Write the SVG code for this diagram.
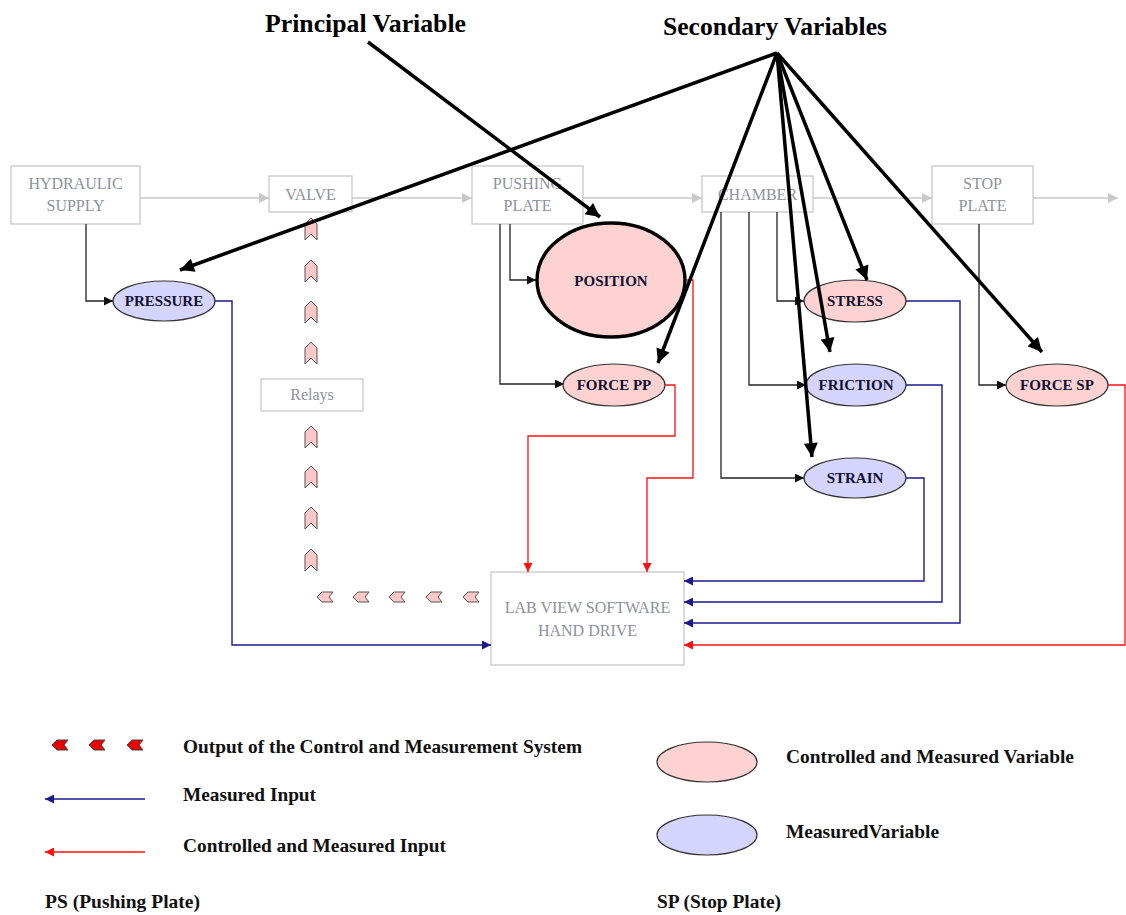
<svg xmlns="http://www.w3.org/2000/svg" width="1126" height="915" viewBox="0 0 1126 915">
  <style>
    .box { fill: #ffffff; stroke: #c8c8c8; stroke-width: 1.3; }
    .boxtxt { font-family: "Liberation Serif", "Times New Roman", serif; font-size: 16px; fill: #8c929c; text-anchor: middle; }
    .flow { fill: none; stroke: #c8c8c8; stroke-width: 1.5; }
    .thin { fill: none; stroke: #222222; stroke-width: 1.3; }
    .blue { fill: none; stroke: #1a1a8c; stroke-width: 1.4; }
    .red { fill: none; stroke: #ff1010; stroke-width: 1.3; }
    .thick { fill: none; stroke: #000000; stroke-width: 3.5; }
    .cmv { fill: #ffd2d2; stroke: #333333; stroke-width: 1.2; }
    .mv { fill: #d4d4fc; stroke: #333333; stroke-width: 1.2; }
    .principal { fill: #ffd2d2; stroke: #000000; stroke-width: 3.4; }
    .ntxt { font-family: "Liberation Serif", "Times New Roman", serif; font-weight: bold; font-size: 15px; fill: #111133; text-anchor: middle; }
    .title { font-family: "Liberation Serif", "Times New Roman", serif; font-weight: bold; font-size: 26px; fill: #000000; }
    .leg { font-family: "Liberation Serif", "Times New Roman", serif; font-weight: bold; font-size: 19px; fill: #111111; }
    .chev { fill: #ffc8c8; stroke: #555555; stroke-width: 1; }
    .chevred { fill: #e80000; stroke: #444444; stroke-width: 1; }
  </style>
  <defs>
    <marker id="aGray" viewBox="0 0 10 10" refX="10" refY="5" markerWidth="10" markerHeight="10" markerUnits="userSpaceOnUse" orient="auto">
      <path d="M0,0 L10,5 L0,10 z" fill="#c8c8c8"/>
    </marker>
    <marker id="aBlack" viewBox="0 0 10 10" refX="10" refY="5" markerWidth="9" markerHeight="9" markerUnits="userSpaceOnUse" orient="auto">
      <path d="M0,0 L10,5 L0,10 z" fill="#111111"/>
    </marker>
    <marker id="aBlue" viewBox="0 0 10 10" refX="10" refY="5" markerWidth="9" markerHeight="9" markerUnits="userSpaceOnUse" orient="auto">
      <path d="M0,0 L10,5 L0,10 z" fill="#1a1a8c"/>
    </marker>
    <marker id="aRed" viewBox="0 0 10 10" refX="10" refY="5" markerWidth="9" markerHeight="9" markerUnits="userSpaceOnUse" orient="auto">
      <path d="M0,0 L10,5 L0,10 z" fill="#ff1010"/>
    </marker>
    <marker id="aThick" viewBox="0 0 10 10" refX="10" refY="5" markerWidth="15" markerHeight="14" markerUnits="userSpaceOnUse" orient="auto">
      <path d="M0,0 L10,5 L0,10 z" fill="#000000"/>
    </marker>
    <polygon id="chevUp" points="0,-11 6,-5 6,11 0,5 -6,11 -6,-5"/>
    <polygon id="chevLeft" points="-8,0 -3,-5 8,-5 4,0 8,5 -3,5"/>
  </defs>

  <!-- Process chain boxes -->
  <g id="hydraulic-supply">
    <rect class="box" x="11" y="166" width="129" height="58"/>
    <text class="boxtxt" x="75.5" y="189">HYDRAULIC</text>
    <text class="boxtxt" x="75.5" y="211">SUPPLY</text>
  </g>
  <g id="valve">
    <rect class="box" x="269" y="176" width="83" height="36"/>
    <text class="boxtxt" x="310.5" y="200">VALVE</text>
  </g>
  <g id="pushing-plate">
    <rect class="box" x="472" y="166" width="111" height="58"/>
    <text class="boxtxt" x="527.5" y="189">PUSHING</text>
    <text class="boxtxt" x="527.5" y="211">PLATE</text>
  </g>
  <g id="chamber">
    <rect class="box" x="702" y="176" width="111" height="36"/>
    <text class="boxtxt" x="757.5" y="200">CHAMBER</text>
  </g>
  <g id="stop-plate">
    <rect class="box" x="932" y="166" width="101" height="58"/>
    <text class="boxtxt" x="982.5" y="189">STOP</text>
    <text class="boxtxt" x="982.5" y="211">PLATE</text>
  </g>
  <g id="relays">
    <rect class="box" x="261" y="379" width="102" height="32"/>
    <text class="boxtxt" x="312" y="400">Relays</text>
  </g>
  <g id="labview">
    <rect class="box" x="491" y="572" width="193" height="93"/>
    <text class="boxtxt" x="587.5" y="613">LAB VIEW SOFTWARE</text>
    <text class="boxtxt" x="587.5" y="636">HAND DRIVE</text>
  </g>

  <!-- Connectors -->
  <g id="connectors">
    <!-- process flow -->
    <line class="flow" x1="140" y1="198" x2="269" y2="198" marker-end="url(#aGray)"/>
    <line class="flow" x1="352" y1="198" x2="472" y2="198" marker-end="url(#aGray)"/>
    <line class="flow" x1="583" y1="198" x2="702" y2="198" marker-end="url(#aGray)"/>
    <line class="flow" x1="813" y1="198" x2="932" y2="198" marker-end="url(#aGray)"/>
    <line class="flow" x1="1033" y1="198" x2="1118" y2="198" marker-end="url(#aGray)"/>

    <!-- sources to variables -->
    <polyline class="thin" points="86,224 86,301 113,301" marker-end="url(#aBlack)"/>
    <polyline class="thin" points="510,224 510,280 536,280" marker-end="url(#aBlack)"/>
    <polyline class="thin" points="500,224 500,384 564,384" marker-end="url(#aBlack)"/>
    <polyline class="thin" points="777,212 777,301 804,301" marker-end="url(#aBlack)"/>
    <polyline class="thin" points="749,212 749,385 806,385" marker-end="url(#aBlack)"/>
    <polyline class="thin" points="721,212 721,478 804,478" marker-end="url(#aBlack)"/>
    <polyline class="thin" points="979,224 979,385 1006,385" marker-end="url(#aBlack)"/>

    <!-- measured inputs -->
    <polyline class="blue" points="215,301 232,301 232,645 491,645" marker-end="url(#aBlue)"/>
    <polyline class="blue" points="906,478 924,478 924,581 684,581" marker-end="url(#aBlue)"/>
    <polyline class="blue" points="906,385 942,385 942,602 684,602" marker-end="url(#aBlue)"/>
    <polyline class="blue" points="906,301 960,301 960,623 684,623" marker-end="url(#aBlue)"/>

    <!-- controlled and measured inputs -->
    <polyline class="red" points="687,280 693,280 693,478 647,478 647,572" marker-end="url(#aRed)"/>
    <polyline class="red" points="665,385 675,385 675,436 528,436 528,572" marker-end="url(#aRed)"/>
    <polyline class="red" points="1108,385 1125,385 1125,645 684,645" marker-end="url(#aRed)"/>

    <!-- control outputs through the relays -->
    <g class="chev">
      <use href="#chevUp" x="311" y="229"/>
      <use href="#chevUp" x="311" y="271"/>
      <use href="#chevUp" x="311" y="312"/>
      <use href="#chevUp" x="311" y="353"/>
      <use href="#chevUp" x="311" y="437"/>
      <use href="#chevUp" x="311" y="477"/>
      <use href="#chevUp" x="311" y="518"/>
      <use href="#chevUp" x="311" y="560"/>
      <use href="#chevLeft" x="325" y="597"/>
      <use href="#chevLeft" x="361" y="597"/>
      <use href="#chevLeft" x="397" y="597"/>
      <use href="#chevLeft" x="434" y="597"/>
      <use href="#chevLeft" x="471" y="597"/>
    </g>
  </g>

  <!-- Variables -->
  <g id="pressure">
    <ellipse class="mv" cx="164" cy="301" rx="51" ry="20"/>
    <text class="ntxt" x="164" y="306">PRESSURE</text>
  </g>
  <g id="position">
    <ellipse class="principal" cx="611" cy="280" rx="74" ry="57"/>
    <text class="ntxt" x="611" y="286">POSITION</text>
  </g>
  <g id="force-pp">
    <ellipse class="cmv" cx="614" cy="385" rx="51" ry="21"/>
    <text class="ntxt" x="614" y="390">FORCE PP</text>
  </g>
  <g id="stress">
    <ellipse class="cmv" cx="855" cy="301" rx="51" ry="21"/>
    <text class="ntxt" x="855" y="306">STRESS</text>
  </g>
  <g id="friction">
    <ellipse class="mv" cx="856" cy="385" rx="50" ry="21"/>
    <text class="ntxt" x="856" y="390">FRICTION</text>
  </g>
  <g id="strain">
    <ellipse class="mv" cx="855" cy="478" rx="51" ry="20"/>
    <text class="ntxt" x="855" y="483">STRAIN</text>
  </g>
  <g id="force-sp">
    <ellipse class="cmv" cx="1057" cy="385" rx="51" ry="21"/>
    <text class="ntxt" x="1057" y="390">FORCE SP</text>
  </g>

  <!-- Headings and their pointers -->
  <g id="principal-variable">
    <text class="title" x="265" y="32" textLength="201" lengthAdjust="spacingAndGlyphs">Principal Variable</text>
    <line class="thick" x1="368" y1="42" x2="600" y2="217" marker-end="url(#aThick)"/>
  </g>
  <g id="secondary-variables">
    <text class="title" x="663" y="35" textLength="224" lengthAdjust="spacingAndGlyphs">Secondary Variables</text>
    <line class="thick" x1="777" y1="53" x2="180" y2="270" marker-end="url(#aThick)"/>
    <line class="thick" x1="777" y1="53" x2="658" y2="363" marker-end="url(#aThick)"/>
    <line class="thick" x1="777" y1="53" x2="812" y2="457" marker-end="url(#aThick)"/>
    <line class="thick" x1="777" y1="53" x2="830" y2="352" marker-end="url(#aThick)"/>
    <line class="thick" x1="777" y1="53" x2="867" y2="280" marker-end="url(#aThick)"/>
    <line class="thick" x1="777" y1="53" x2="1042" y2="352" marker-end="url(#aThick)"/>
  </g>

  <!-- Legend -->
  <g id="legend">
    <g class="chevred">
      <use href="#chevLeft" x="60" y="745"/>
      <use href="#chevLeft" x="97" y="745"/>
      <use href="#chevLeft" x="135" y="745"/>
    </g>
    <text class="leg" x="183" y="753" textLength="399" lengthAdjust="spacingAndGlyphs">Output of the Control and Measurement System</text>
    <line class="blue" x1="145" y1="799" x2="45" y2="799" marker-end="url(#aBlue)"/>
    <text class="leg" x="183" y="801" textLength="133" lengthAdjust="spacingAndGlyphs">Measured Input</text>
    <line class="red" x1="145" y1="852" x2="45" y2="852" marker-end="url(#aRed)"/>
    <text class="leg" x="183" y="852" textLength="263" lengthAdjust="spacingAndGlyphs">Controlled and Measured Input</text>
    <text class="leg" x="45" y="908" textLength="155" lengthAdjust="spacingAndGlyphs">PS (Pushing Plate)</text>

    <ellipse class="cmv" cx="707" cy="762" rx="50" ry="20"/>
    <text class="leg" x="786" y="763" textLength="288" lengthAdjust="spacingAndGlyphs">Controlled and Measured Variable</text>
    <ellipse class="mv" cx="707" cy="835" rx="50" ry="20"/>
    <text class="leg" x="786" y="838" textLength="153" lengthAdjust="spacingAndGlyphs">MeasuredVariable</text>
    <text class="leg" x="657" y="908" textLength="124" lengthAdjust="spacingAndGlyphs">SP (Stop Plate)</text>
  </g>
</svg>
